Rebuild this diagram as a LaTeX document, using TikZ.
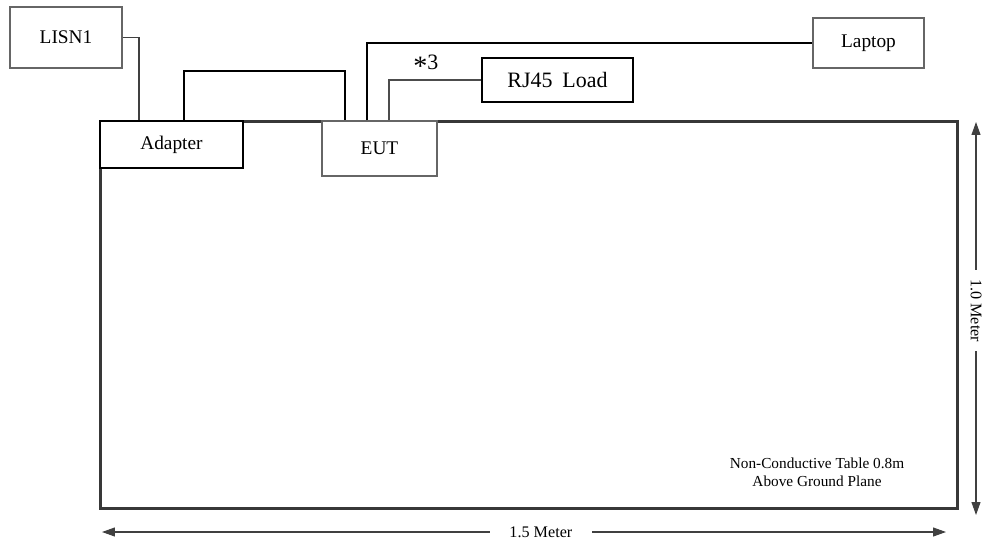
\documentclass[tikz,border=0pt]{standalone}
\usepackage{fontspec}
\setmainfont{Liberation Serif}
\usetikzlibrary{positioning, arrows.meta, calc}

\begin{document}
\begin{tikzpicture}[
    x=0.02cm, y=-0.02cm,
    thinbox/.style={draw=black!60, line width=0.6pt, fill=white, inner sep=0pt},
    boldbox/.style={draw=black, line width=1.1pt, fill=white, inner sep=0pt},
    line/.style={draw, line width=0.9pt},
    dimline/.style={draw=black!75, line width=0.6pt, {Triangle[length=0.26cm, width=0.18cm]}-{Triangle[length=0.26cm, width=0.18cm]}},
    dimlabel/.style={fill=white, inner sep=2pt, font=\fontsize{9.2}{10}\selectfont},
    font=\fontsize{11}{12}\selectfont
  ]
    \useasboundingbox (0,0) rectangle (987,541);
    % テーブル（外枠）
    \node[draw=black!78, line width=1.7pt, minimum width=17.16cm, minimum height=7.76cm, inner sep=0pt] (table) at (529,315) {};
    % 機器
    \node[thinbox, minimum width=2.24cm, minimum height=1.22cm] (lisn) at (66,37.5) {LISN1};
    \node[boldbox, minimum width=2.86cm, minimum height=0.94cm] (adapter) at (171.5,144.5) {Adapter};
    \node[thinbox, minimum width=2.3cm, minimum height=1.1cm] (eut) at (379.5,148.5) {EUT};
    \node[boldbox, minimum width=3.02cm, minimum height=0.88cm, font=\fontsize{12.5}{14}\selectfont] (rjload) at (557.5,80) {RJ45\hspace{0.45em}Load};
    \node[thinbox, minimum width=2.22cm, minimum height=1.0cm] (laptop) at (868.5,43) {Laptop};
    % ケーブル
    \draw[line, black!75] (lisn.east) -| ($(adapter.north)+(-32.5,0)$);
    \draw[line] ($(adapter.north)+(12.5,0)$) -- ++(0,-49) -| ($(eut.north)+(-34.5,0)$);
    \draw[draw, line width=0.7pt] ($(eut.north)+(-12.5,0)$) |- (laptop.west);
    \draw[draw=black!70, line width=0.7pt] ($(eut.north)+(9.5,0)$) |- (rjload.west)
      node[pos=0.7, above=-1pt, font=\fontsize{12.5}{14}\selectfont] {{\fontsize{16}{16}\selectfont\raisebox{-0.45ex}{*}}3};
    % 寸法線
    \coordinate (vtop) at (976,122);
    \coordinate (vbot) at (976,515);
    \coordinate (hleft) at (102,532);
    \coordinate (hright) at (946,532);
    \draw[dimline] (vtop) -- node[dimlabel, pos=0.48, rotate=-90, inner xsep=5pt] {1.0 Meter} (vbot);
    \draw[dimline] (hleft) -- node[dimlabel, pos=0.52, inner xsep=11pt] {1.5 Meter} (hright);
    % 注記
    \node[align=center, font=\fontsize{8.7}{10.4}\selectfont] (note) at (817,472) {Non-Conductive Table 0.8m\\Above Ground Plane};
  \end{tikzpicture}
\end{document}
